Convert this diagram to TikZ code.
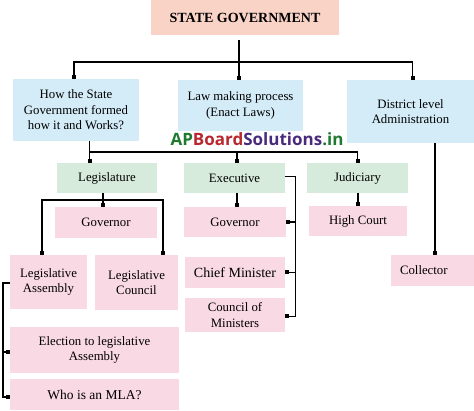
\documentclass[tikz,border=0pt]{standalone}
\usepackage{fontspec}
\setmainfont{Liberation Serif}
\newfontfamily\wmfont{Open Sans}
\usetikzlibrary{arrows.meta,calc}
\definecolor{peachc}{HTML}{F9D3C6}
\definecolor{bluec}{HTML}{D4ECF8}
\definecolor{greenc}{HTML}{D6EBDB}
\definecolor{pinkc}{HTML}{F9D9E4}
\definecolor{wmgreen}{HTML}{1F7A30}
\definecolor{wmred}{HTML}{B8282E}
\definecolor{wmpurple}{HTML}{4A2A7C}
\begin{document}
\begin{tikzpicture}[x=1pt,y=-1pt,
  box/.style={draw=none,inner sep=0pt,align=center,anchor=center,
    font=\fontsize{12.8}{15.5}\selectfont},
  pk/.style={box,fill=pinkc},
  bl/.style={box,fill=bluec},
  gr/.style={box,fill=greenc},
  ln/.style={line width=1.6pt,black},
  tip/.style={ln,-{Square[length=4pt,width=4pt]}}]
\fill[white] (0,0) rectangle (474,411);
\useasboundingbox (0,0) rectangle (474,411);

% nodes
\node[box,fill=peachc,minimum width=188pt,minimum height=35pt,
  font=\fontsize{14}{16}\selectfont\bfseries] (sg) at (245,17.5) {STATE GOVERNMENT};
\node[bl,minimum width=126pt,minimum height=62pt] (b1) at (76,110)
  {How the State\\Government formed\\how it and Works?};
\node[bl,minimum width=125pt,minimum height=51pt] (b2) at (240.5,105.5)
  {Law making process\\(Enact Laws)};
\node[bl,minimum width=127pt,minimum height=63pt] (b3) at (410.5,111.5)
  {District level\\Administration};

\node[gr,minimum width=100pt,minimum height=30pt] (leg) at (107,178) {Legislature};
\node[gr,minimum width=101pt,minimum height=30pt] (exe) at (234.5,178) {Executive};
\node[gr,minimum width=101pt,minimum height=30pt] (jud) at (357.5,178) {Judiciary};

\node[pk,minimum width=102pt,minimum height=31pt] (gov1) at (106,222.5) {Governor};
\node[pk,minimum width=102pt,minimum height=30pt] (gov2) at (235,222) {Governor};
\node[pk,minimum width=98pt,minimum height=30pt] (hc) at (358,221) {High Court};

\node[pk,minimum width=77pt,minimum height=54pt] (la) at (48.5,282) {Legislative\\Assembly};
\node[pk,minimum width=83pt,minimum height=55pt] (lc) at (136.5,282.5) {Legislative\\Council};
\node[pk,minimum width=100pt,minimum height=31pt,font=\fontsize{14}{16}\selectfont] (cm) at (235,272.5) {Chief Minister};
\node[pk,minimum width=100pt,minimum height=34pt] (com) at (235,315) {Council of\\Ministers};
\node[pk,minimum height=31pt,text width=65pt,inner xsep=9pt,align=left] (col) at (432.5,270.5) {Collector};
\node[pk,minimum width=169pt,minimum height=46pt] (el) at (94.5,350) {Election to legislative\\Assembly};
\node[pk,minimum width=169pt,minimum height=31pt,font=\fontsize{13.5}{16}\selectfont] (mla) at (94.5,394.5) {Who is an MLA?};

% watermark
\node[inner sep=0pt,font=\wmfont\bfseries\fontsize{17}{18}\selectfont] (wm) at (257,139)
  {\textcolor{wmgreen}{AP}\textcolor{wmred}{Board}\textcolor{wmpurple}{Solutions}\textcolor{wmgreen}{.in}};

% connectors: top level
\coordinate (t) at (239,62);
\draw[ln,shorten <=5pt] (sg.south -| t) -- (t);
\draw[tip] (t) -- (t |- b2.north);
\draw[tip] (t) -| ([xshift=-2pt]b1.north);
\draw[tip] (t) -| ([xshift=2pt]b3.north);

% second level
\coordinate (u) at (89.5,152);
\draw[tip] (b1.south -| u) -- (u |- leg.north);
\draw[tip] (u) -| ([xshift=2.5pt]exe.north);
\draw[tip] (u) -| (jud.north);

% legislature
\coordinate (v) at (103,200);
\draw[tip] (leg.south -| v) -- (v |- gov1.north);
\draw[tip] (v) -| ([xshift=-6.5pt]la.north);
\draw[tip] (v) -| ([xshift=26.5pt]lc.north);

% executive
\draw[tip] ([xshift=2.5pt]exe.south) -- ([xshift=2.5pt]exe.south |- gov2.north);
\coordinate (w) at (295.5,176.5);
\draw[tip] (exe.east |- w) -- (w) |- ([yshift=-1.5pt]com.east);
\draw[tip] (w |- gov2.east) -- (gov2.east);
\draw[tip] (w |- cm.east) -- (cm.east);

% judiciary
\draw[tip] (jud.south -| hc.north) -- (hc.north);

% district
\draw[tip] ([xshift=24.5pt]b3.south) -- ([xshift=24.5pt]b3.south |- col.north);

% left bracket
\coordinate (z) at (3,283);
\coordinate (elw) at ([yshift=-2pt]el.west);
\draw[tip] (la.west |- z) -- (z) |- ([yshift=-2.5pt]mla.west);
\draw[tip] (z |- elw) -- (elw);
\end{tikzpicture}
\end{document}
